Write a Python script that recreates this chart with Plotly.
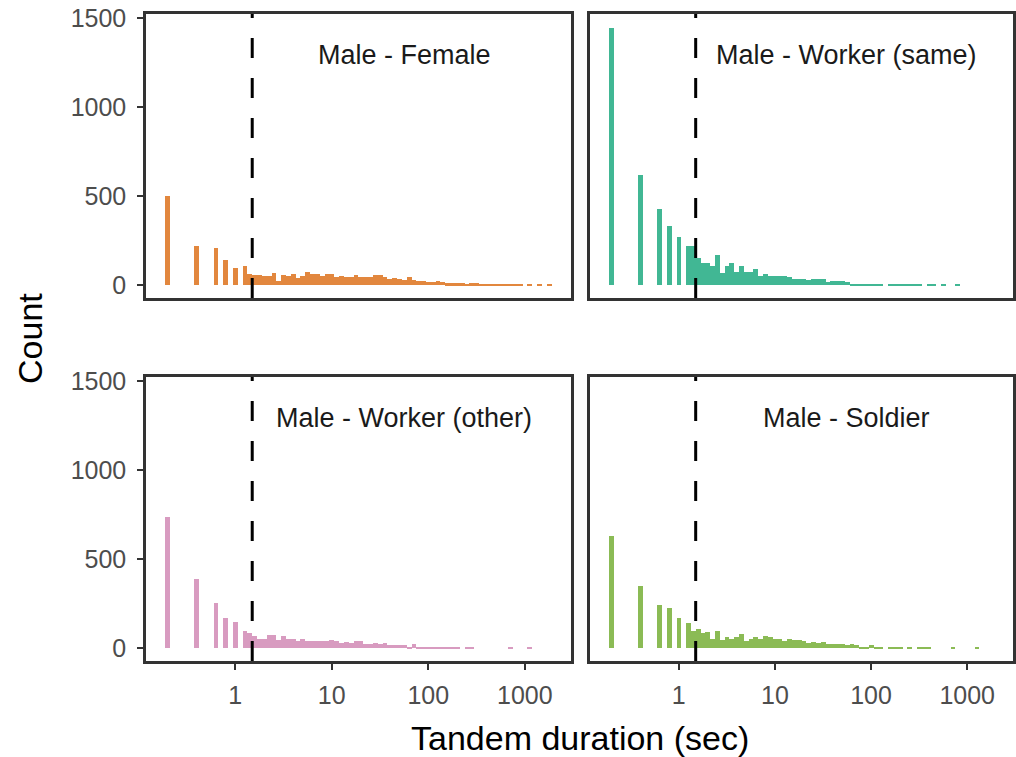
import math
import plotly.graph_objects as go

# ---------------- data (histogram counts per log-spaced bin) ----------------
BIN_LOG_START = math.log10(0.2)   # centre of first bin (log10 sec)
BIN_LOG_WIDTH = 0.05              # bin width in log10 units
N_BINS = 80

panel_titles = ["Male - Female", "Male - Worker (same)",
                "Male - Worker (other)", "Male - Soldier"]
panel_colors = ["#E2873E", "#41B794", "#D89BC0", "#8BBB55"]

male_female = [
    503, 0, 0, 0, 0, 0, 222, 0, 0, 0,
    209, 0, 142, 0, 95, 0, 108, 63, 57, 57,
    49, 51, 68, 23, 57, 53, 63, 42, 51, 74,
    63, 63, 51, 63, 63, 46, 51, 46, 46, 57,
    46, 46, 46, 57, 57, 46, 36, 40, 36, 30,
    46, 28, 23, 23, 17, 17, 23, 17, 11, 11,
    11, 11, 6, 11, 11, 5, 5, 5, 5, 5,
    5, 5, 5, 5, 0, 4, 0, 4, 0, 4,
]
male_worker_same = [
    1446, 0, 0, 0, 0, 0, 616, 0, 0, 0,
    425, 0, 330, 0, 273, 0, 217, 217, 154, 127,
    122, 110, 167, 66, 110, 127, 71, 105, 71, 71,
    88, 54, 60, 54, 54, 49, 49, 43, 37, 37,
    32, 26, 37, 32, 32, 15, 21, 21, 21, 15,
    9, 9, 9, 9, 4, 4, 9, 0, 4, 4,
    4, 4, 4, 4, 4, 0, 4, 4, 0, 4,
    0, 0, 4, 0, 0, 0, 0, 0, 0, 0,
]
male_worker_other = [
    734, 0, 0, 0, 0, 0, 387, 0, 0, 0,
    252, 0, 167, 0, 145, 0, 94, 86, 68, 49,
    54, 71, 71, 43, 66, 49, 54, 38, 49, 38,
    38, 38, 38, 38, 43, 38, 26, 32, 26, 38,
    38, 21, 21, 26, 21, 26, 15, 15, 15, 15,
    9, 21, 9, 9, 9, 4, 4, 9, 4, 4,
    4, 0, 4, 4, 0, 0, 0, 0, 0, 0,
    0, 4, 0, 0, 0, 4, 0, 0, 0, 0,
]
male_soldier = [
    629, 0, 0, 0, 0, 0, 347, 0, 0, 0,
    240, 0, 223, 0, 167, 0, 139, 94, 105, 83,
    88, 54, 94, 43, 60, 49, 60, 77, 38, 54,
    60, 54, 66, 60, 54, 49, 38, 49, 43, 43,
    38, 26, 32, 26, 32, 21, 21, 21, 21, 15,
    21, 15, 9, 9, 15, 4, 4, 0, 4, 4,
    4, 0, 4, 0, 4, 4, 4, 0, 0, 0,
    0, 4, 0, 0, 0, 0, 4, 0, 0, 0,
]
panel_counts = [male_female, male_worker_same, male_worker_other, male_soldier]

threshold_sec = 1.5
x_tick_secs = [1, 10, 100, 1000]
x_tick_text = ["1", "10", "100", "1000"]
y_tick_vals = [0, 500, 1000, 1500]
y_tick_text = ["0", "500", "1000", "1500"]
label_x_sec = 56
label_y = 1290

# ---------------- figure (x axis in log10 seconds) ----------------
FONT = "Liberation Sans, Arial, sans-serif"
bin_centers_log = [BIN_LOG_START + BIN_LOG_WIDTH * k for k in range(N_BINS)]

fig = go.Figure()
axis_ids = ["", "2", "3", "4"]
for i, counts in enumerate(panel_counts):
    xs = [c for c, n in zip(bin_centers_log, counts) if n > 0]
    ys = [n for n in counts if n > 0]
    fig.add_trace(go.Bar(
        x=xs, y=ys, width=[BIN_LOG_WIDTH] * len(xs),
        marker=dict(color=panel_colors[i], line=dict(width=0)),
        xaxis="x" + axis_ids[i], yaxis="y" + axis_ids[i],
        showlegend=False,
    ))

x_domains = [[0, 0.490], [0.512, 1], [0, 0.490], [0.512, 1]]
y_domains = [[0.561, 1], [0.561, 1], [0, 0.439], [0, 0.439]]
frame = dict(showline=True, mirror=True, linecolor="#333333", linewidth=2.5,
             showgrid=False, zeroline=False, automargin=False)
layout = {}
for i in range(4):
    bottom = i >= 2
    left = i % 2 == 0
    layout["xaxis" + axis_ids[i]] = dict(
        domain=x_domains[i], anchor="y" + axis_ids[i], type="linear",
        range=[-0.924, 3.476],
        tickvals=[math.log10(v) for v in x_tick_secs], ticktext=x_tick_text,
        showticklabels=bottom, ticks="outside" if bottom else "",
        ticklen=6, tickwidth=2, tickcolor="#333333",
        tickfont=dict(family=FONT, size=25, color="#4D4D4D"),
        ticklabelstandoff=4,
        **frame)
    layout["yaxis" + axis_ids[i]] = dict(
        domain=y_domains[i], anchor="x" + axis_ids[i],
        range=[-72.5, 1522.5],
        tickvals=y_tick_vals, ticktext=y_tick_text,
        showticklabels=left, ticks="outside" if left else "",
        ticklen=6, tickwidth=2, tickcolor="#333333",
        tickfont=dict(family=FONT, size=25, color="#4D4D4D"),
        ticklabelstandoff=6,
        **frame)

shapes = []
annotations = []
for i in range(4):
    xt = math.log10(threshold_sec)
    shapes.append(dict(
        type="line", xref="x" + axis_ids[i], yref="y" + axis_ids[i] + " domain",
        x0=xt, x1=xt, y0=0, y1=1,
        line=dict(color="black", width=3, dash="20px,20px"),
    ))
    annotations.append(dict(
        text=panel_titles[i], xref="x" + axis_ids[i], yref="y" + axis_ids[i],
        x=math.log10(label_x_sec), y=label_y, showarrow=False,
        xanchor="center", yanchor="middle",
        font=dict(family=FONT, size=27, color="#1A1A1A"),
    ))

annotations.append(dict(
    text="Tandem duration (sec)", xref="paper", yref="paper",
    x=0.501, y=-0.119, showarrow=False, xanchor="center", yanchor="middle",
    font=dict(family=FONT, size=34, color="black"),
))
annotations.append(dict(
    text="Count", xref="paper", yref="paper", textangle=-90,
    x=-0.134, y=0.499, showarrow=False, xanchor="center", yanchor="middle",
    font=dict(family=FONT, size=34, color="black"),
))

fig.update_layout(
    **layout,
    shapes=shapes, annotations=annotations,
    width=1016, height=757,
    margin=dict(l=146, r=3, t=14, b=96, autoexpand=False),
    plot_bgcolor="white", paper_bgcolor="white",
    bargap=0,
)

fig.write_html(
    "out.html",
    config={"displayModeBar": False},
    post_script="document.body.style.margin='0';document.body.style.overflow='hidden';",
)
